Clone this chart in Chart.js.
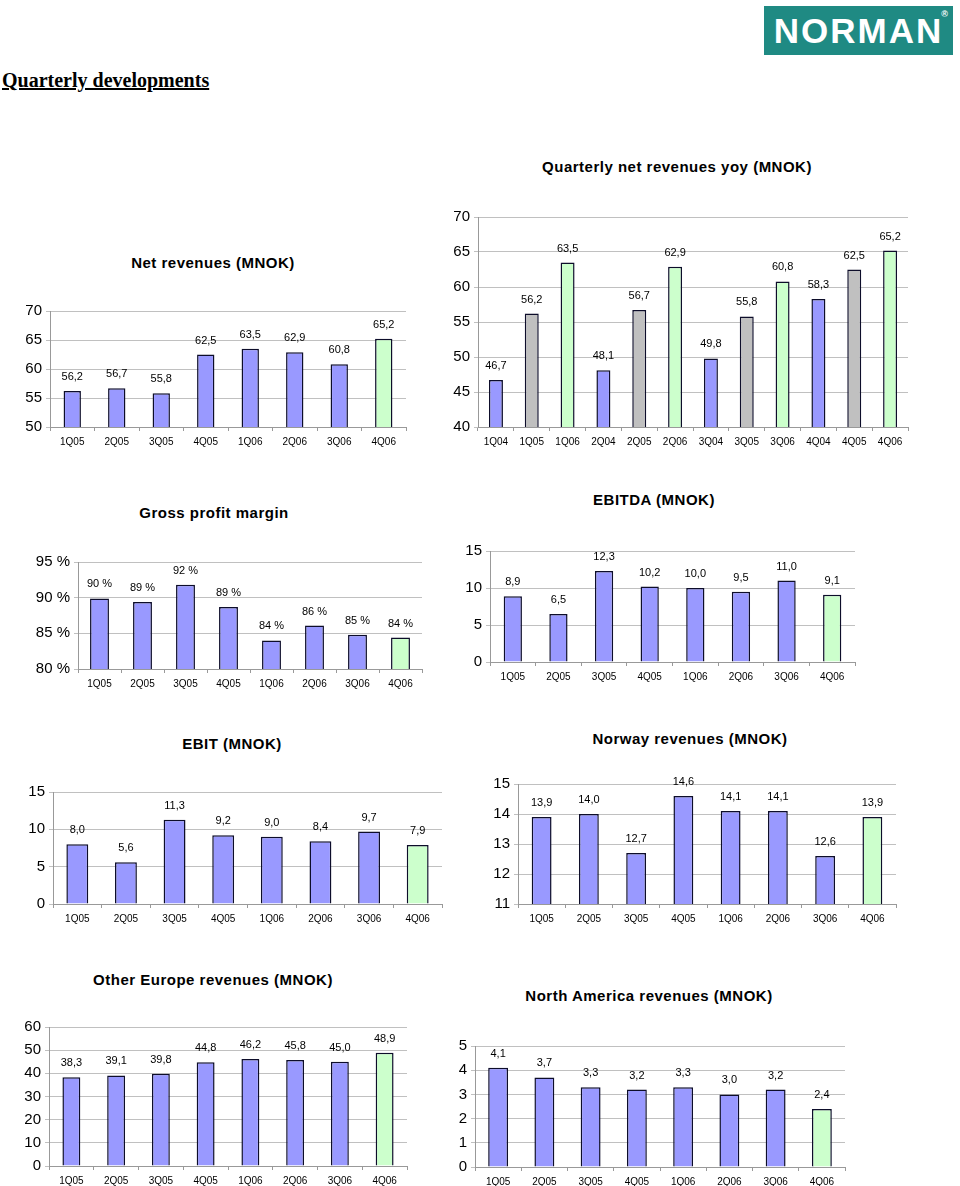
<!DOCTYPE html>
<html>
<head>
<meta charset="utf-8">
<script src="https://cdn.jsdelivr.net/npm/chart.js@4"></script>
<style>
  body { margin: 0; background: #fff; }
  #page { position: relative; width: 960px; height: 1186px; overflow: hidden; font-family: "Liberation Sans", Arial, sans-serif; }
  .logo { position: absolute; left: 764px; top: 6px; width: 189px; height: 49px; background: #1f8a83; color: #fff;
          font: bold 35px "Liberation Sans", Arial, sans-serif; line-height: 49px; text-align: center; letter-spacing: 2px; }
  .logo sup { font-size: 9px; position: absolute; right: 5px; top: -16px; letter-spacing: 0; }
  .heading { position: absolute; left: 2px; top: 69px; font: bold 20px "Liberation Serif", "Times New Roman", serif; text-decoration: underline; }
  .title { position: absolute; width: 400px; text-align: center; font-weight: bold; font-size: 15px; line-height: 18px; letter-spacing: 0.5px; }
  canvas { position: absolute; }
</style>
</head>
<body>
<div id="page">
  <div class="logo">NORMAN<sup>®</sup></div>
  <div class="heading">Quarterly developments</div>
</div>
<script>
// quarters
const quarters = ['1Q05', '2Q05', '3Q05', '4Q05', '1Q06', '2Q06', '3Q06', '4Q06'];
const yoyQuarters = ['1Q04', '1Q05', '1Q06', '2Q04', '2Q05', '2Q06', '3Q04', '3Q05', '3Q06', '4Q04', '4Q05', '4Q06'];

// values
const netRevenues = [56.2, 56.7, 55.8, 62.5, 63.5, 62.9, 60.8, 65.2];
const yoyRevenues = [46.7, 56.2, 63.5, 48.1, 56.7, 62.9, 49.8, 55.8, 60.8, 58.3, 62.5, 65.2];
const grossMargin = [89.9, 89.4, 91.8, 88.7, 84.0, 86.1, 84.8, 84.4];
const ebitda = [8.9, 6.5, 12.3, 10.2, 10.0, 9.5, 11.0, 9.1];
const ebit = [8.0, 5.6, 11.3, 9.2, 9.0, 8.4, 9.7, 7.9];
const norway = [13.9, 14.0, 12.7, 14.6, 14.1, 14.1, 12.6, 13.9];
const otherEurope = [38.3, 39.1, 39.8, 44.8, 46.2, 45.8, 45.0, 48.9];
const northAmerica = [4.1, 3.7, 3.3, 3.2, 3.3, 3.0, 3.2, 2.4];

const BLUE = '#9999ff', GREY = '#c0c0c0', GREEN = '#ccffcc';
const quarterColors = [BLUE, BLUE, BLUE, BLUE, BLUE, BLUE, BLUE, GREEN];
const yoyColors = [BLUE, GREY, GREEN, BLUE, GREY, GREEN, BLUE, GREY, GREEN, BLUE, GREY, GREEN];

const dec = v => v.toFixed(1).replace('.', ',');
const pct = v => Math.round(v) + ' %';

const FONT = '"Liberation Sans", Arial, sans-serif';
const page = document.getElementById('page');

function makeLabels(fmt) {
    return {
        id: 'valueLabels',
        afterDatasetsDraw(chart) {
            const ctx = chart.ctx;
            const ds = chart.data.datasets[0];
            ctx.save();
            ctx.font = '11px ' + FONT;
            ctx.fillStyle = '#000';
            ctx.textAlign = 'center';
            ctx.textBaseline = 'middle';
            chart.getDatasetMeta(0).data.forEach((bar, i) => {
                ctx.fillText(fmt(ds.data[i]), bar.x, bar.y - 14);
            });
            ctx.restore();
        }
    };
}

// pl/pr/pt/pb = wanted plot area on the page, tx/ty = title centre
function addChart(c) {
    const axisW = 50, padTop = 15, padRight = 5, xAxisH = 28;
    const left = c.pl - axisW, top = c.pt - padTop;
    const w = c.pr - left + padRight, h = (c.pb - c.pt) + padTop + xAxisH;

    const t = document.createElement('div');
    t.className = 'title';
    t.textContent = c.title;
    t.style.left = (c.tx - 200) + 'px';
    t.style.top = (c.ty - 9) + 'px';
    page.appendChild(t);

    const cv = document.createElement('canvas');
    cv.width = w; cv.height = h;
    cv.style.left = left + 'px'; cv.style.top = top + 'px';
    cv.style.width = w + 'px'; cv.style.height = h + 'px';
    page.appendChild(cv);

    new Chart(cv.getContext('2d'), {
        type: 'bar',
        data: {
            labels: c.labels,
            datasets: [{
                data: c.values,
                backgroundColor: c.colors,
                borderColor: '#0d0d2a',
                borderWidth: 1.5,
                barPercentage: c.bar,
                categoryPercentage: 1
            }]
        },
        options: {
            responsive: false,
            animation: false,
            layout: { padding: { top: padTop, right: padRight, left: 0, bottom: 0 } },
            scales: {
                x: {
                    grid: { display: true, drawOnChartArea: false, tickLength: 4, color: '#999' },
                    border: { color: '#999' },
                    ticks: { color: '#000', font: { family: FONT, size: 10 }, padding: 5, maxRotation: 0 },
                    afterFit: s => { s.height = xAxisH; }
                },
                y: {
                    min: c.min, max: c.max,
                    grid: { color: '#c0c0c0', tickLength: 4 },
                    border: { color: '#999' },
                    ticks: { stepSize: c.step, color: '#000', font: { family: FONT, size: 15 }, padding: 4,
                             callback: c.tick || (v => v) },
                    afterFit: s => { s.width = axisW; }
                }
            },
            plugins: {
                legend: { display: false },
                tooltip: { enabled: false }
            }
        },
        plugins: [makeLabels(c.fmt)]
    });
}

addChart({ title: 'Net revenues (MNOK)', tx: 213, ty: 263, pl: 50, pr: 406, pt: 311, pb: 427,
    labels: quarters, values: netRevenues, colors: quarterColors, min: 50, max: 70, step: 5, bar: 0.39, fmt: dec });
addChart({ title: 'Quarterly net revenues yoy (MNOK)', tx: 677, ty: 167, pl: 478, pr: 908, pt: 217, pb: 427,
    labels: yoyQuarters, values: yoyRevenues, colors: yoyColors, min: 40, max: 70, step: 5, bar: 0.39, fmt: dec });
addChart({ title: 'Gross profit margin', tx: 214, ty: 513, pl: 78, pr: 422, pt: 562, pb: 669,
    labels: quarters, values: grossMargin, colors: quarterColors, min: 80, max: 95, step: 5, bar: 0.44, fmt: pct,
    tick: v => v + ' %' });
addChart({ title: 'EBITDA (MNOK)', tx: 654, ty: 500, pl: 490, pr: 855, pt: 551, pb: 662,
    labels: quarters, values: ebitda, colors: quarterColors, min: 0, max: 15, step: 5, bar: 0.4, fmt: dec });
addChart({ title: 'EBIT (MNOK)', tx: 232, ty: 744, pl: 53, pr: 442, pt: 792, pb: 904,
    labels: quarters, values: ebit, colors: quarterColors, min: 0, max: 15, step: 5, bar: 0.45, fmt: dec });
addChart({ title: 'Norway revenues (MNOK)', tx: 690, ty: 739, pl: 518, pr: 896, pt: 784, pb: 904,
    labels: quarters, values: norway, colors: quarterColors, min: 11, max: 15, step: 1, bar: 0.42, fmt: dec });
addChart({ title: 'Other Europe revenues (MNOK)', tx: 213, ty: 980, pl: 49, pr: 407, pt: 1027, pb: 1166,
    labels: quarters, values: otherEurope, colors: quarterColors, min: 0, max: 60, step: 10, bar: 0.4, fmt: dec });
addChart({ title: 'North America revenues (MNOK)', tx: 649, ty: 996, pl: 475, pr: 845, pt: 1046, pb: 1167,
    labels: quarters, values: northAmerica, colors: quarterColors, min: 0, max: 5, step: 1, bar: 0.43, fmt: dec });
</script>
</body>
</html>
